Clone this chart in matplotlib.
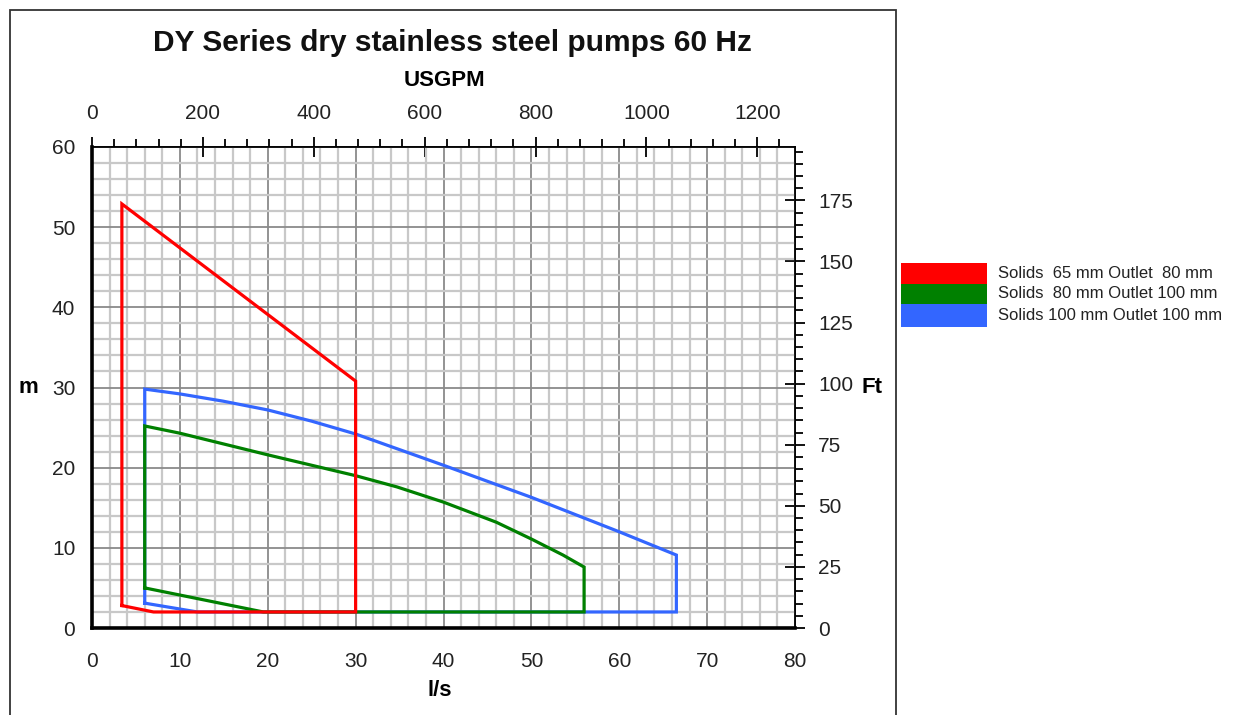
import matplotlib
matplotlib.use('Agg')
import matplotlib.pyplot as plt
from matplotlib.patches import Rectangle
from matplotlib.ticker import MultipleLocator, FixedLocator

plt.rcParams['font.family'] = ['Liberation Sans', 'DejaVu Sans']

title = "DY Series dry stainless steel pumps 60 Hz"
series_labels = ["Solids  65 mm Outlet  80 mm",
                 "Solids  80 mm Outlet 100 mm",
                 "Solids 100 mm Outlet 100 mm"]
series_colors = ["#ff0000", "#008000", "#3366ff"]

# flow (l/s) and head (m) outlines of each operating envelope
red_q = [3.4, 3.4, 30.0, 30.0, 7.0, 3.4]
red_h = [2.8, 52.9, 30.8, 2.0, 2.0, 2.8]

green_q = [6.0, 6.0, 10.0, 20.0, 30.0, 34.7, 40.0, 46.0, 50.0, 53.6, 56.0, 56.0, 30.0, 19.5, 6.0]
green_h = [5.0, 25.2, 24.3, 21.6, 19.0, 17.6, 15.7, 13.2, 11.1, 9.1, 7.6, 2.0, 2.0, 2.0, 5.0]

blue_q = [6.0, 6.0, 10.0, 14.9, 20.0, 25.0, 30.0, 40.0, 50.0, 60.0, 66.5, 66.5, 12.0, 6.0]
blue_h = [3.1, 29.8, 29.2, 28.3, 27.2, 25.8, 24.2, 20.3, 16.3, 12.0, 9.1, 2.0, 2.0, 3.1]

usgpm_ticks = [0, 200, 400, 600, 800, 1000, 1200]
ft_ticks = [0, 25, 50, 75, 100, 125, 150, 175]

LS_TO_USGPM = 15.850
M_TO_FT = 3.28084

W, H = 1240, 715
fig = plt.figure(figsize=(12.4, 7.15), dpi=100)
fig.patch.set_facecolor('white')
ax = fig.add_axes([92 / W, 1 - 628 / H, (795 - 92) / W, (628 - 147) / H])

# outer frame
fig.add_artist(Rectangle((10 / W, -0.05), (896 - 10) / W, 1.05 - 10 / H,
                         transform=fig.transFigure, fill=False,
                         edgecolor='#333333', lw=1.3))

ax.set_xlim(0, 80)
ax.set_ylim(0, 60)
ax.xaxis.set_major_locator(MultipleLocator(10))
ax.xaxis.set_minor_locator(MultipleLocator(2))
ax.yaxis.set_major_locator(MultipleLocator(10))
ax.yaxis.set_minor_locator(MultipleLocator(2))
ax.grid(which='minor', color='#c8c8c8', lw=1.6)
ax.grid(which='major', color='#8a8a8a', lw=1.3)
ax.set_axisbelow(True)

qs = [red_q, green_q, blue_q]
hs = [red_h, green_h, blue_h]
zorders = [5, 4, 3]
for q, h, c, z in zip(qs, hs, series_colors, zorders):
    ax.plot(q, h, color=c, lw=2.3, solid_joinstyle='miter', zorder=z)

for s in ['left', 'bottom']:
    ax.spines[s].set_linewidth(2.6)
    ax.spines[s].set_color('black')
for s in ['top', 'right']:
    ax.spines[s].set_linewidth(1.2)
    ax.spines[s].set_color('black')

ax.tick_params(axis='both', which='both', length=0, labelsize=15, labelcolor='#222222')
ax.tick_params(axis='x', pad=17)
ax.tick_params(axis='y', pad=12)

ax.set_xlabel('l/s', fontsize=16, fontweight='bold', va='center')
ax.xaxis.set_label_coords(0.495, -0.129)
ax.set_ylabel('m', fontsize=16, fontweight='bold', rotation=0, va='center', ha='center')
ax.yaxis.set_label_coords(-0.091, 0.501)

top = ax.secondary_xaxis('top', functions=(lambda q: q * LS_TO_USGPM, lambda g: g / LS_TO_USGPM))
top.xaxis.set_major_locator(FixedLocator(usgpm_ticks))
top.xaxis.set_minor_locator(FixedLocator([v for v in range(40, 1241, 40) if v % 200]))
top.tick_params(which='major', direction='inout', length=15, width=1.3, labelsize=15,
                labelcolor='#222222', pad=10)
top.tick_params(which='minor', direction='out', length=6, width=1.3)
top.spines['top'].set_linewidth(1.2)
top.set_xlabel('USGPM', fontsize=16, fontweight='bold', va='center')
top.xaxis.set_label_coords(0.502, 1.139, transform=ax.transAxes)

right = ax.secondary_yaxis('right', functions=(lambda m: m * M_TO_FT, lambda f: f / M_TO_FT))
right.yaxis.set_major_locator(FixedLocator(ft_ticks))
right.yaxis.set_minor_locator(FixedLocator([v for v in range(5, 196, 5) if v % 25]))
right.tick_params(which='major', direction='inout', length=15, width=1.3, labelsize=15,
                  labelcolor='#222222', pad=9)
right.tick_params(which='minor', direction='out', length=6, width=1.3)
right.spines['right'].set_linewidth(1.2)
right.set_ylabel('Ft', fontsize=16, fontweight='bold', rotation=0, va='center', ha='center')
right.yaxis.set_label_coords(1.1095, 0.501, transform=ax.transAxes)

fig.text(452 / W, 1 - 43 / H, title, fontsize=21.5, fontweight='bold',
         ha='center', va='center', color='#111111')

# legend outside frame
bounds = [(263, 284), (284, 304), (304, 327)]
for (t, b), c, lab in zip(bounds, series_colors, series_labels):
    fig.add_artist(Rectangle((901 / W, 1 - b / H), (987 - 901) / W, (b - t) / H,
                             transform=fig.transFigure, facecolor=c, edgecolor='none'))
    fig.text(998 / W, 1 - ((t + b) / 2) / H, lab, fontsize=12, ha='left', va='center',
             color='#222222')

fig.savefig('out.png', dpi=100, facecolor='white')
